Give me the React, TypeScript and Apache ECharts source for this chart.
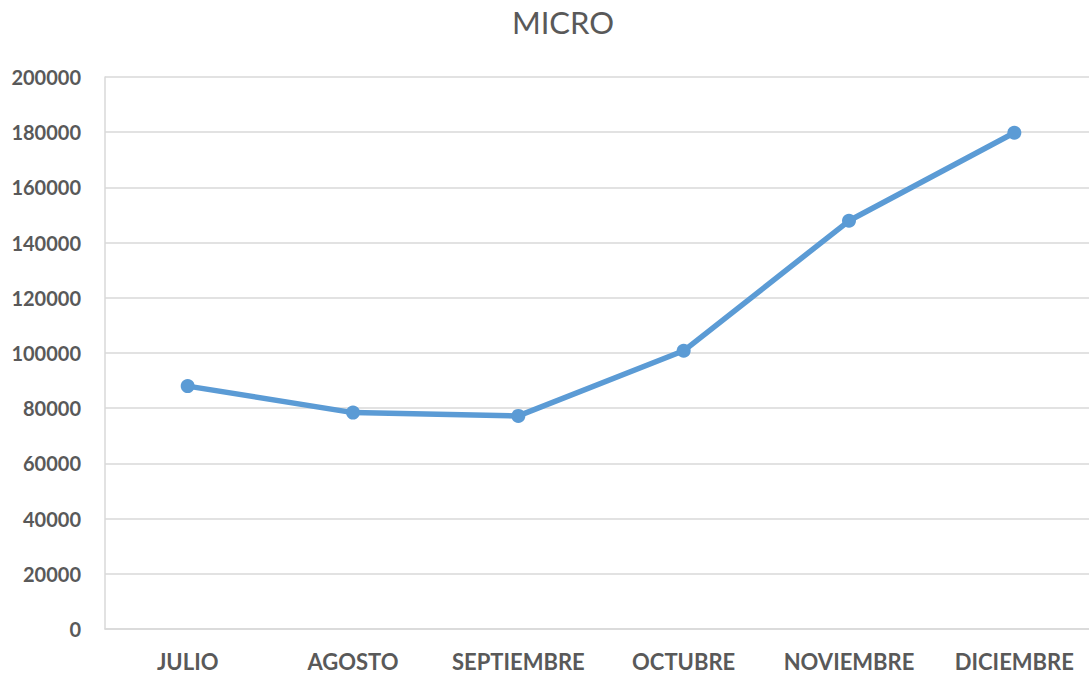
import React, { useEffect, useRef } from "react";
import * as echarts from "echarts";

const categories = ["JULIO", "AGOSTO", "SEPTIEMBRE", "OCTUBRE", "NOVIEMBRE", "DICIEMBRE"];
const values = [88000, 78400, 77200, 100800, 147900, 179800];
const yTicks = { min: 0, max: 200000, interval: 20000 };

export default function App() {
  const ref = useRef<HTMLDivElement>(null);
  useEffect(() => {
    const chart = echarts.init(ref.current!, null, { renderer: "svg" });
    chart.setOption({
      animation: false,
      title: {
        text: "MICRO",
        left: 558,
        textAlign: "center",
        top: 1,
        textStyle: { fontFamily: "Lato", fontSize: 31, fontWeight: "normal", color: "#595959" },
      },
      grid: { left: 105, right: 3, top: 77, bottom: 48, containLabel: false },
      xAxis: {
        type: "category",
        data: categories,
        boundaryGap: true,
        axisLine: { show: true, lineStyle: { color: "#d9d9d9", width: 1.5 } },
        axisTick: { show: false },
        axisLabel: {
          fontFamily: "Lato",
          fontSize: 22,
          fontWeight: "bold",
          color: "#595959",
          margin: 21,
          interval: 0,
        },
      },
      yAxis: {
        type: "value",
        min: yTicks.min,
        max: yTicks.max,
        interval: yTicks.interval,
        axisLine: { show: true, lineStyle: { color: "#d9d9d9", width: 1.5 } },
        axisTick: { show: false },
        splitLine: { lineStyle: { color: "#d9d9d9", width: 1.5 } },
        axisLabel: {
          fontFamily: "Lato",
          fontSize: 20,
          fontWeight: "bold",
          color: "#595959",
          margin: 24,
          formatter: (v: number) => String(v),
        },
      },
      series: [
        {
          type: "line",
          data: values,
          symbol: "circle",
          symbolSize: 14,
          lineStyle: { color: "#5B9BD5", width: 5.5 },
          itemStyle: { color: "#5B9BD5" },
        },
      ],
    });
    return () => chart.dispose();
  }, []);
  return (
    <div
      ref={ref}
      style={{ position: "absolute", left: 0, top: 0, width: 1100, height: 677, background: "#fff" }}
    />
  );
}
